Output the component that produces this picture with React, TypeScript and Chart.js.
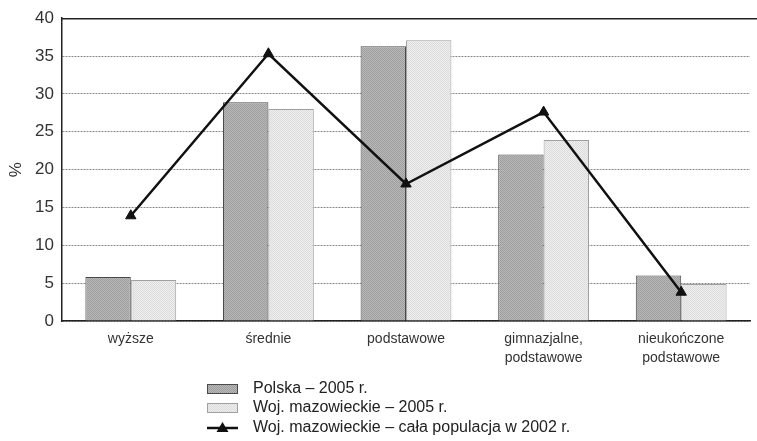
import React, { useEffect, useRef } from "react";
import { Chart, registerables } from "chart.js";

Chart.register(...registerables);

const categories: (string | string[])[] = [
  "wyższe",
  "średnie",
  "podstawowe",
  ["gimnazjalne,", "podstawowe"],
  ["nieukończone", "podstawowe"],
];
const polska2005 = [5.8, 28.9, 36.3, 22.0, 6.0];
const mazowieckie2005 = [5.4, 28.0, 37.1, 23.9, 4.9];
const mazowieckie2002 = [13.9, 35.3, 18.1, 27.6, 3.8];
const seriesLabels = [
  "Polska – 2005 r.",
  "Woj. mazowieckie – 2005 r.",
  "Woj. mazowieckie – cała populacja w 2002 r.",
];

const FONT = "'Liberation Sans', Arial, sans-serif";

function makePattern(a: string, b: string): CanvasPattern | string {
  const c = document.createElement("canvas");
  c.width = 2;
  c.height = 2;
  const ctx = c.getContext("2d");
  if (!ctx) return a;
  ctx.fillStyle = a;
  ctx.fillRect(0, 0, 2, 2);
  ctx.fillStyle = b;
  ctx.fillRect(0, 0, 1, 1);
  ctx.fillRect(1, 1, 1, 1);
  const p = ctx.createPattern(c, "repeat");
  return p || a;
}

const frameAndLegend = {
  id: "frameAndLegend",
  afterDraw(chart: any) {
    const { ctx, chartArea } = chart;
    ctx.save();
    // top frame line
    ctx.strokeStyle = "#222";
    ctx.lineWidth = 1.5;
    ctx.beginPath();
    ctx.moveTo(chartArea.left, chartArea.top + 0.5);
    ctx.lineTo(chart.width, chartArea.top + 0.5);
    ctx.stroke();

    // legend
    const ds = chart.data.datasets;
    const rows = [389, 408, 428];
    const sx = 207;
    const sw = 31;
    ctx.font = `16px ${FONT}`;
    ctx.textBaseline = "middle";
    ctx.textAlign = "left";
    ds.forEach((d: any, i: number) => {
      const y = rows[i];
      if (d.type === "line") {
        ctx.strokeStyle = d.borderColor;
        ctx.lineWidth = 2.5;
        ctx.beginPath();
        ctx.moveTo(sx, y);
        ctx.lineTo(sx + sw, y);
        ctx.stroke();
        ctx.fillStyle = d.pointBackgroundColor;
        const cx = sx + sw / 2;
        ctx.beginPath();
        ctx.moveTo(cx, y - 6);
        ctx.lineTo(cx + 6, y + 4);
        ctx.lineTo(cx - 6, y + 4);
        ctx.closePath();
        ctx.fill();
      } else {
        ctx.fillStyle = d.backgroundColor;
        ctx.fillRect(sx, y - 5, sw, 10);
        ctx.strokeStyle = d.borderColor;
        ctx.lineWidth = 1;
        ctx.strokeRect(sx + 0.5, y - 4.5, sw - 1, 9);
      }
      ctx.fillStyle = "#222";
      ctx.fillText(d.label, 253, y);
    });
    ctx.restore();
  },
};

export default function App() {
  const ref = useRef<HTMLCanvasElement | null>(null);

  useEffect(() => {
    if (!ref.current) return;
    const darkFill = makePattern("#b8b8b8", "#9e9e9e");
    const lightFill = makePattern("#eeeeee", "#dcdcdc");
    const chart = new Chart(ref.current, {
      type: "bar",
      data: {
        labels: categories,
        datasets: [
          {
            type: "bar",
            label: seriesLabels[0],
            data: polska2005,
            backgroundColor: darkFill as any,
            borderColor: "#4a4a4a",
            borderWidth: 1,
            categoryPercentage: 0.66,
            barPercentage: 1.0,
            order: 1,
          },
          {
            type: "bar",
            label: seriesLabels[1],
            data: mazowieckie2005,
            backgroundColor: lightFill as any,
            borderColor: "#a0a0a0",
            borderWidth: 1,
            categoryPercentage: 0.66,
            barPercentage: 1.0,
            order: 1,
          },
          {
            type: "line",
            label: seriesLabels[2],
            data: mazowieckie2002,
            borderColor: "#111",
            borderWidth: 2.5,
            pointStyle: "triangle",
            pointRadius: 6,
            pointBackgroundColor: "#111",
            pointBorderColor: "#111",
            pointBorderWidth: 1,
            tension: 0,
            fill: false,
            order: 0,
          } as any,
        ],
      },
      options: {
        animation: false,
        responsive: false,
        maintainAspectRatio: false,
        layout: { padding: { top: 17, right: 5, left: 6, bottom: 0 } },
        plugins: {
          legend: { display: false },
          tooltip: { enabled: false },
          title: { display: false },
        },
        scales: {
          x: {
            grid: { display: false, drawTicks: false },
            border: { display: true, color: "#222", width: 1.5 },
            ticks: {
              color: "#333",
              font: { family: FONT, size: 14, lineHeight: 1.4 },
              padding: 8,
              maxRotation: 0,
              autoSkip: false,
            },
            afterFit(scale: any) {
              scale.height = 120;
            },
          },
          y: {
            min: 0,
            max: 40,
            ticks: {
              stepSize: 5,
              color: "#333",
              font: { family: FONT, size: 17 },
              padding: 8,
            },
            grid: {
              color: "#8a8a8a",
              lineWidth: 1,
              drawTicks: false,
            },
            border: { display: true, color: "#222", width: 1.5, dash: [2, 1] } as any,
            title: {
              display: true,
              text: "%",
              color: "#333",
              font: { family: FONT, size: 17 },
              padding: { top: 0, bottom: 0 },
            },
            afterFit(scale: any) {
              scale.width = 56;
            },
          },
        },
      },
      plugins: [frameAndLegend],
    });
    return () => chart.destroy();
  }, []);

  return (
    <div style={{ position: "fixed", left: 0, top: 0, width: 757, height: 441, background: "#fff" }}>
      <canvas ref={ref} width={757} height={441} style={{ display: "block" }} />
    </div>
  );
}
